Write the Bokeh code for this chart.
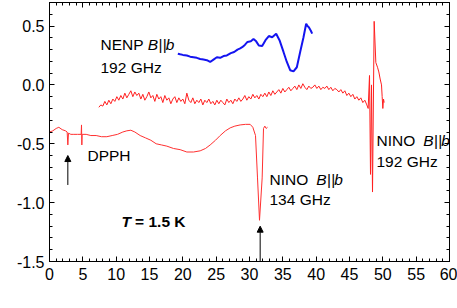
import math
from bokeh.plotting import figure
from bokeh.models import (LinearAxis, Label, Arrow, NormalHead, Range1d,
                          SingleIntervalTicker, NumeralTickFormatter,
                          CustomJSTickFormatter)
from bokeh.embed import file_html
from bokeh.resources import INLINE

# ---------------- data ----------------
# NENP, B||b, 192 GHz (blue)
nenp_b = [19.25, 19.6, 20.0, 20.6, 21.1, 21.6, 22.1, 22.6, 23.1, 23.6, 24.1, 24.6,
          25.1, 25.6, 26.1, 26.6, 27.2, 27.7, 28.2, 28.6, 28.9, 29.3, 29.7, 30.2,
          30.6, 31.0, 31.4, 31.9, 32.4, 32.9, 33.4, 33.7, 34.0, 34.5, 35.1, 35.6,
          36.1, 36.6, 37.1, 37.6, 38.1, 38.5, 38.7, 38.9, 39.2, 39.4]
nenp_t = [0.265, 0.26, 0.255, 0.25, 0.24, 0.235, 0.23, 0.22, 0.215, 0.21, 0.195, 0.215,
          0.235, 0.23, 0.245, 0.25, 0.27, 0.28, 0.30, 0.31, 0.32, 0.34, 0.365, 0.37,
          0.39, 0.37, 0.335, 0.33, 0.38, 0.415, 0.405, 0.42, 0.435, 0.38, 0.28, 0.195,
          0.125, 0.115, 0.15, 0.28, 0.405, 0.52, 0.50, 0.49, 0.46, 0.435]

# NINO, B||b, 192 GHz (red, middle)
nino192_b = [7.4, 7.7, 8.0, 8.3, 8.6, 8.9, 9.2, 9.5, 9.8, 10.1,
             10.4, 10.7, 11.0, 11.3, 11.6, 11.9, 12.2, 12.5, 12.8, 13.1,
             13.4, 13.7, 14.0, 14.3, 14.6, 14.9, 15.2, 15.5, 15.8, 16.1,
             16.4, 16.7, 17.0, 17.3, 17.6, 17.9, 18.2, 18.5, 18.8, 19.1,
             19.4, 19.7, 20.0, 20.3, 20.6, 20.9, 21.2, 21.5, 21.8, 22.1,
             22.4, 22.7, 23.0, 23.3, 23.6, 23.9, 24.2, 24.5, 24.8, 25.1,
             25.4, 25.7, 26.0, 26.3, 26.6, 26.9, 27.2, 27.5, 27.8, 28.1,
             28.4, 28.7, 29.0, 29.3, 29.6, 29.9, 30.2, 30.5, 30.8, 31.1,
             31.4, 31.7, 32.0, 32.3, 32.6, 32.9, 33.2, 33.5, 33.8, 34.1,
             34.4, 34.7, 35.0, 35.3, 35.6, 35.9, 36.2, 36.5, 36.8, 37.1,
             37.4, 37.7, 38.0, 38.3, 38.6, 38.9, 39.2, 39.5, 39.8, 40.1,
             40.4, 40.7, 41.0, 41.3, 41.6, 41.9, 42.2, 42.5, 42.8, 43.1,
             43.4, 43.7, 44.0, 44.3, 44.6, 44.9, 45.2, 45.5, 45.8, 46.1,
             46.4, 46.7, 47.0, 47.3, 47.6, 47.8,
             48.0, 48.15, 48.3, 48.45, 48.7, 48.95, 49.2, 49.4, 49.6, 49.8,
             49.9, 50.0, 50.1, 50.2]
nino192_t = [-0.19, -0.17, -0.18, -0.14, -0.17, -0.13, -0.16, -0.12, -0.14, -0.10,
             -0.13, -0.09, -0.12, -0.07, -0.11, -0.08, -0.05, -0.10, -0.06, -0.09,
             -0.07, -0.12, -0.08, -0.13, -0.10, -0.06, -0.11, -0.09, -0.14, -0.08,
             -0.12, -0.10, -0.15, -0.09, -0.13, -0.11, -0.16, -0.12, -0.10, -0.15,
             -0.11, -0.14, -0.12, -0.16, -0.07, -0.13, -0.15, -0.11, -0.16, -0.13,
             -0.15, -0.12, -0.17, -0.13, -0.15, -0.12, -0.16, -0.14, -0.17, -0.13,
             -0.16, -0.13, -0.15, -0.17, -0.12, -0.15, -0.13, -0.16, -0.12, -0.14,
             -0.11, -0.14, -0.12, -0.09, -0.13, -0.10, -0.12, -0.08, -0.11, -0.09,
             -0.12, -0.08, -0.10, -0.07, -0.10, -0.06, -0.09, -0.05, -0.08, -0.06,
             -0.04, -0.07, -0.03, -0.06, -0.04, -0.02, -0.05, -0.03, -0.01, -0.04,
             0.00, -0.03, 0.01, -0.02, -0.04, -0.01, -0.03, -0.02, 0.00, -0.03,
             -0.01, -0.04, -0.02, -0.03, -0.01, -0.04, -0.02, -0.05, -0.03, -0.04,
             -0.06, -0.04, -0.07, -0.05, -0.09, -0.07, -0.10, -0.08, -0.12, -0.10,
             -0.13, -0.11, -0.15, -0.13, -0.17, -0.20,
             0.08, -0.76, 0.00, -0.91, 0.54, 0.19, 0.15, 0.11, 0.05, 0.00,
             -0.10, -0.20, -0.12, -0.15]

# NINO, B||b, 134 GHz (red, lower) incl. DPPH marker
nino134_b = [0.0, 0.5, 1.0, 1.4, 1.9, 2.4, 2.65, 2.75, 2.85, 3.2, 3.65, 4.2, 4.75, 4.8,
             4.85, 4.9, 5.5, 6.2, 7.0, 7.8, 8.6, 9.4, 10.2, 11.0, 11.6, 12.2, 12.8, 13.6,
             14.4, 15.2, 16.0, 16.8, 17.6, 18.6, 19.6, 20.6, 21.6, 22.6, 23.4, 24.1, 24.9,
             25.6, 26.4, 27.1, 27.8, 28.6, 29.4, 30.1, 30.5, 30.9, 31.2, 31.5, 31.9, 32.1,
             32.3, 32.5, 32.7]
nino134_t = [-0.40, -0.39, -0.37, -0.36, -0.38, -0.39, -0.40, -0.51, -0.41, -0.42, -0.42,
             -0.42, -0.42, -0.34, -0.51, -0.42, -0.42, -0.43, -0.43, -0.44, -0.44, -0.43,
             -0.42, -0.40, -0.39, -0.385, -0.40, -0.43, -0.45, -0.47, -0.50, -0.51, -0.52,
             -0.54, -0.55, -0.57, -0.57, -0.56, -0.54, -0.51, -0.47, -0.43, -0.39, -0.365,
             -0.35, -0.34, -0.335, -0.335, -0.36, -0.43, -0.79, -1.15, -0.79, -0.37, -0.35,
             -0.37, -0.36]

# arrows (B, start T, end T)
arrow_b = [2.75, 31.6]
arrow_t0 = [-0.85, -1.5]
arrow_t1 = [-0.6, -1.2]

FONT = "Liberation Sans"
FS = "15.5px"
TICK_FS = "16px"

p = figure(width=457, height=308, x_range=Range1d(0, 60), y_range=Range1d(-1.5, 0.7),
           output_backend="svg", toolbar_location=None,
           x_axis_location=None, y_axis_location=None,
           min_border_left=49, min_border_right=8, min_border_top=2, min_border_bottom=47)
p.grid.visible = False
p.outline_line_color = "black"
p.background_fill_color = "white"
p.border_fill_color = "white"

xt = SingleIntervalTicker(interval=5, num_minor_ticks=5)
yt = SingleIntervalTicker(interval=0.5, num_minor_ticks=5)
empty = CustomJSTickFormatter(code="return ''")

bottom = LinearAxis(ticker=xt)
left = LinearAxis(ticker=yt, formatter=NumeralTickFormatter(format="0.0"))
top = LinearAxis(ticker=xt, formatter=empty)
right = LinearAxis(ticker=yt, formatter=empty)
p.add_layout(bottom, "below")
p.add_layout(left, "left")
p.add_layout(top, "above")
p.add_layout(right, "right")

for ax in [bottom, left, top, right]:
    ax.major_tick_in = 5
    ax.major_tick_out = 0
    ax.minor_tick_in = 3
    ax.minor_tick_out = 0
    ax.axis_line_color = "black"
    ax.major_tick_line_color = "black"
    ax.minor_tick_line_color = "black"
    ax.major_label_text_font = FONT
    ax.major_label_text_font_size = TICK_FS
    ax.major_label_text_color = "black"
for ax in [top, right]:
    ax.major_label_text_font_size = "0px"
    ax.major_label_standoff = 0
bottom.major_label_standoff = 6
left.major_label_standoff = 5

p.line(nino134_b, nino134_t, line_color="#ff3030", line_width=1)
p.line(nino192_b, nino192_t, line_color="#ff2020", line_width=1)
p.line(nenp_b, nenp_t, line_color="#1414f0", line_width=2)

for i in range(len(arrow_b)):
    p.add_layout(Arrow(end=NormalHead(size=6, fill_color="black", line_color="black"),
                       x_start=arrow_b[i], y_start=arrow_t0[i],
                       x_end=arrow_b[i], y_end=arrow_t1[i],
                       line_color="black", line_width=1))


def lab(x, y, text, xo=0, yo=0, style="normal", align="left", angle=0.0):
    p.add_layout(Label(x=x, y=y, text=text, x_offset=xo, y_offset=yo,
                       text_font=FONT, text_font_size=FS, text_font_style=style,
                       text_align=align, text_baseline="middle", angle=angle,
                       text_color="black"))


def bparb(x, y, prefix, pw):
    lab(x, y, prefix)
    lab(x, y, "B", xo=pw, style="italic")
    lab(x, y, "||", xo=pw + 10.8)
    lab(x, y, "b", xo=pw + 18.0, style="italic")


bparb(7.65, 0.34, "NENP", 47.3)
lab(7.65, 0.15, "192 GHz")
bparb(33.0, -0.80, "NINO", 46.8)
lab(33.0, -0.97, "134 GHz")
bparb(49.05, -0.475, "NINO", 46.8)
lab(49.05, -0.65, "192 GHz")
lab(5.7, -0.60, "DPPH")
lab(10.8, -1.16, "T", style="bold italic")
lab(10.8, -1.16, "= 1.5 K", xo=13.6, style="bold")

# axis titles
lab(27.4, -1.5, "B", yo=-23, style="italic")
lab(27.4, -1.5, "(T)", yo=-23, xo=14.6)
lab(0, -0.5, "Transmission (a.u.)", xo=-42, align="center", angle=math.pi / 2)

open("out.html", "w").write(file_html(p, INLINE))
